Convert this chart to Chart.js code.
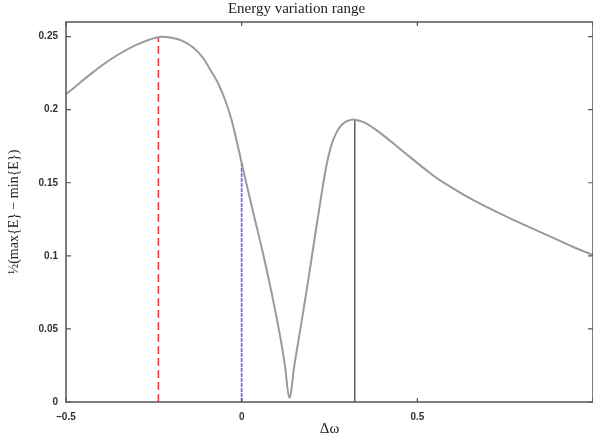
<!DOCTYPE html>
<html lang="en">
<head>
    <meta charset="UTF-8">
    <title>Energy variation range</title>
    <style>
        body {
            margin: 0;
            background: #fff;
        }
        .chart-box {
            width: 593px;
            height: 440px;
            position: relative;
        }
    </style>
</head>
<body>

<div class="chart-box">
    <canvas id="grafico"></canvas>
</div>

<script src="https://cdn.jsdelivr.net/npm/chart.js"></script>
<script>
    // curve: half of the energy variation range vs detuning
    const omega = [-0.5, -0.46, -0.42, -0.38, -0.34, -0.3, -0.265, -0.233, -0.2, -0.17, -0.138, -0.11,
        -0.091, -0.07, -0.05, -0.03, -0.015, 0, 0.03, 0.06, 0.085, 0.108, 0.122, 0.136, 0.15, 0.165,
        0.185, 0.2026, 0.22, 0.2406, 0.255, 0.27, 0.285, 0.3, 0.321, 0.35, 0.392, 0.449, 0.534, 0.5625,
        0.657, 0.752, 0.847, 0.941, 1];
    const range = [0.2105, 0.2185, 0.2262, 0.2333, 0.2393, 0.2443, 0.2477, 0.2498, 0.2493, 0.2473, 0.2425, 0.2355,
        0.228, 0.2195, 0.2085, 0.194, 0.1795, 0.1635, 0.1325, 0.1025, 0.075, 0.047, 0.027, 0.003, 0.025, 0.047,
        0.0765, 0.104, 0.131, 0.161, 0.1755, 0.1845, 0.1897, 0.1922, 0.1932, 0.1912, 0.1845, 0.1735, 0.157, 0.152,
        0.1384, 0.127, 0.1166, 0.1064, 0.1005];

    // vertical marker lines
    const markerX = [-0.237, 0, 0.322];
    const markerTop = [0.2498, 0.1635, 0.1932];

    const xTicks = [-0.5, 0, 0.5, 1];
    const yTicks = [0, 0.05, 0.1, 0.15, 0.2, 0.25];

    const pts = omega.map((w, i) => ({ x: w, y: range[i] }));
    const linha = (i) => [{ x: markerX[i], y: 0 }, { x: markerX[i], y: markerTop[i] }];

    // frame round the plot plus inward tick marks
    const moldura = {
        id: 'moldura',
        afterDraw(chart) {
            const { ctx, chartArea: a, scales } = chart;
            ctx.save();
            ctx.strokeStyle = '#555';
            ctx.lineWidth = 1.5;
            ctx.strokeRect(a.left, a.top, a.right - a.left, a.bottom - a.top);
            ctx.lineWidth = 1.2;
            ctx.beginPath();
            xTicks.forEach(v => {
                const px = scales.x.getPixelForValue(v);
                ctx.moveTo(px, a.bottom); ctx.lineTo(px, a.bottom - 4);
                ctx.moveTo(px, a.top); ctx.lineTo(px, a.top + 4);
            });
            yTicks.forEach(v => {
                const py = scales.y.getPixelForValue(v);
                ctx.moveTo(a.left, py); ctx.lineTo(a.left + 5, py);
                ctx.moveTo(a.right, py); ctx.lineTo(a.right - 5, py);
            });
            ctx.stroke();
            ctx.restore();
        }
    };

    new Chart(document.getElementById('grafico').getContext('2d'), {
        type: 'scatter',
        data: {
            datasets: [
                {
                    data: pts, showLine: true, borderColor: '#9a9a9a', borderWidth: 2,
                    pointRadius: 0, tension: 0.35
                },
                {
                    data: linha(0), showLine: true, borderColor: '#f03a3a', borderWidth: 1.5,
                    borderDash: [8, 4], pointRadius: 0
                },
                {
                    data: linha(1), showLine: true, borderColor: '#7272e4', borderWidth: 1.8,
                    borderDash: [4, 1], pointRadius: 0
                },
                {
                    data: linha(2), showLine: true, borderColor: '#444', borderWidth: 1.3,
                    pointRadius: 0
                }
            ]
        },
        options: {
            responsive: true,
            maintainAspectRatio: false,
            animation: false,
            layout: { padding: 0 },
            plugins: {
                legend: { display: false },
                tooltip: { enabled: false },
                title: {
                    display: true,
                    text: 'Energy variation range',
                    color: '#222',
                    font: { family: 'Liberation Serif', size: 15, weight: 'normal' },
                    padding: { top: 0, bottom: 4 }
                }
            },
            scales: {
                x: {
                    type: 'linear',
                    min: -0.5,
                    max: 1,
                    afterBuildTicks: s => { s.ticks = xTicks.map(v => ({ value: v })); },
                    afterFit: s => { s.height = 38; s.paddingRight = 0; s.paddingLeft = 0; },
                    grid: { display: false },
                    border: { display: false },
                    ticks: {
                        padding: 1,
                        color: '#333',
                        font: { family: 'Liberation Sans', size: 10, weight: 'bold' },
                        callback: v => v === 1 ? '' : (v < 0 ? '\u2013' + Math.abs(v) : String(v))
                    },
                    title: {
                        display: true,
                        text: '\u0394\u03c9',
                        color: '#222',
                        font: { family: 'Liberation Serif', size: 15 },
                        padding: { top: 0, bottom: 2 }
                    }
                },
                y: {
                    min: 0,
                    max: 0.26,
                    afterBuildTicks: s => { s.ticks = yTicks.map(v => ({ value: v })); },
                    afterFit: s => { s.width = 66; },
                    grid: { display: false },
                    border: { display: false },
                    ticks: {
                        padding: 0,
                        color: '#333',
                        font: { family: 'Liberation Sans', size: 10, weight: 'bold' },
                        callback: v => String(v)
                    },
                    title: {
                        display: true,
                        text: '\u00bd(max{E} \u2212 min{E})',
                        color: '#222',
                        font: { family: 'Liberation Serif', size: 14 },
                        padding: { top: 6, bottom: 0 }
                    }
                }
            }
        },
        plugins: [moldura]
    });
</script>
</body>
</html>
